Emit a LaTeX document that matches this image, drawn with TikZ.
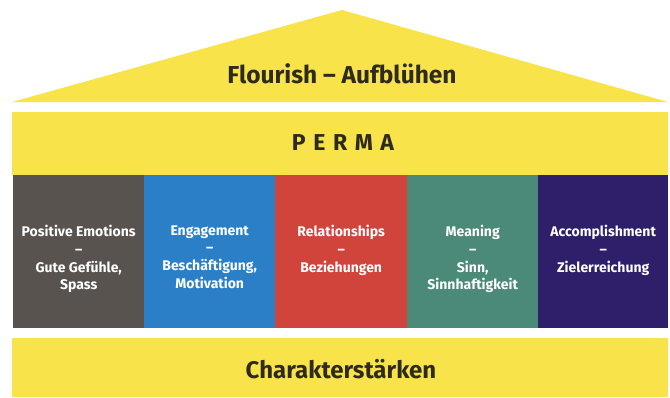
\documentclass[tikz,border=0pt]{standalone}
\usepackage{fontspec}
\setmainfont{Fira Sans}
\begin{document}
\begin{tikzpicture}[x=1pt,y=-1pt,
  col/.style={draw=none,minimum width=131pt,minimum height=153pt,inner sep=0pt,anchor=north west},
  coltext/.style={text=white,font=\fontsize{14}{17.7}\selectfont\bfseries,align=center,anchor=north},
  title/.style={text=titledark,font=\fontsize{24.5}{28}\selectfont\bfseries}]
\definecolor{permayellow}{HTML}{F8E34A}
\definecolor{titledark}{HTML}{2E2B1E}
\definecolor{cgray}{HTML}{58534F}
\definecolor{cblue}{HTML}{2B7FC6}
\definecolor{cred}{HTML}{D0443B}
\definecolor{cteal}{HTML}{4B8978}
\definecolor{cpurple}{HTML}{2F1F6A}
\useasboundingbox (0,0) rectangle (670,397);
% roof
\fill[permayellow] (12,102) -- (342,10) -- (668,102) -- cycle;
\node[title] (flourish) at (342,74) {Flourish – Aufblühen};
% PERMA band
\fill[permayellow] (12,112) rectangle (668,175);
\node[title,font=\fontsize{23}{26}\selectfont\bfseries] (perma) at (343,143) {P\hspace{0.33em}E\hspace{0.33em}R\hspace{0.33em}M\hspace{0.33em}A};
% columns
\node[col,fill=cgray] (c1) at (13,175) {};
\node[col,fill=cblue,minimum width=131pt] (c2) at (144,175) {};
\node[col,fill=cred,minimum width=132pt] (c3) at (275,175) {};
\node[col,fill=cteal,minimum width=131pt] (c4) at (407,175) {};
\node[col,fill=cpurple,minimum width=130pt] (c5) at (538,175) {};
\node[coltext] (t1) at (c1.center |- 0,222) {Positive Emotions\\–\\Gute Gefühle,\\Spass};
\node[coltext] (t2) at (c2.center |- 0,222) {Engagement\\–\\Beschäftigung,\\Motivation};
\node[coltext] (t3) at (c3.center |- 0,222) {Relationships\\–\\Beziehungen};
\node[coltext] (t4) at (c4.center |- 0,222) {Meaning\\–\\Sinn,\\Sinnhaftigkeit};
\node[coltext] (t5) at (c5.center |- 0,222) {Accomplishment\\–\\Zielerreichung};
% base
\fill[permayellow] (12,338) rectangle (668,397);
\node[title,font=\fontsize{24}{28}\selectfont\bfseries] (base) at (341,369) {Charakterstärken};
\end{tikzpicture}
\end{document}
